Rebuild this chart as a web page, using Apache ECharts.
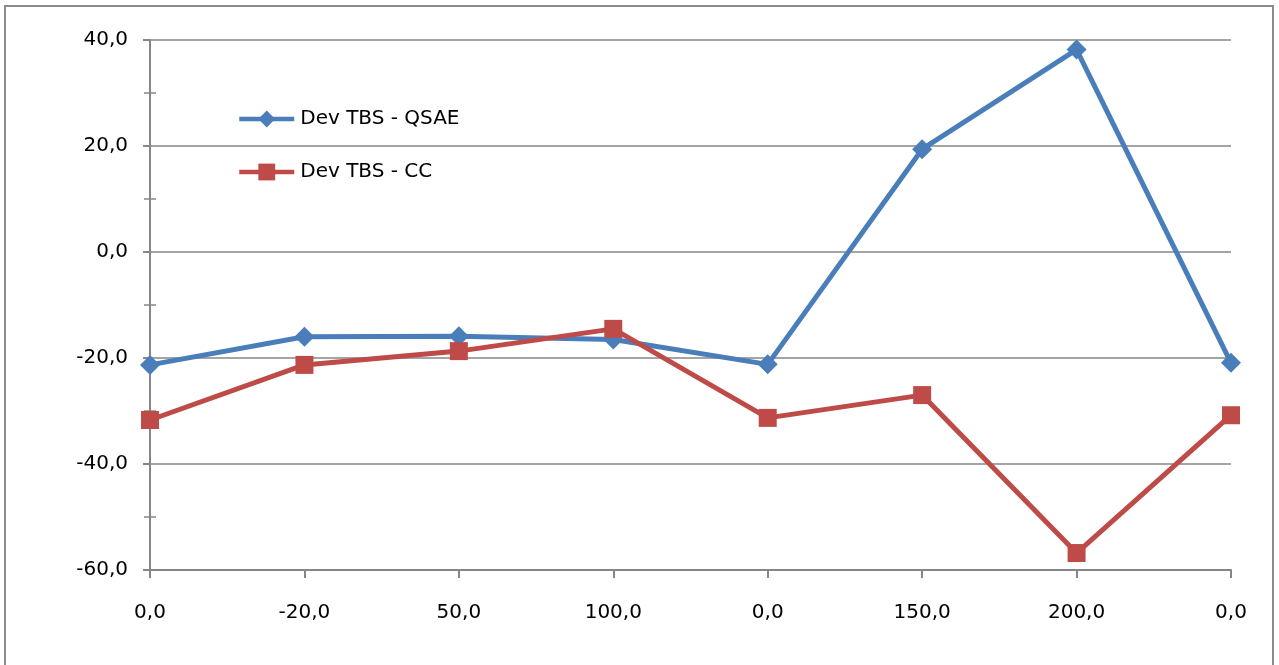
<!DOCTYPE html>
<html>
<head>
<meta charset="utf-8">
<script src="https://cdn.jsdelivr.net/npm/echarts@6/dist/echarts.min.js"></script>
<style>
  html, body { margin: 0; padding: 0; background: #fff; }
  #chart { width: 1279px; height: 665px; }
</style>
</head>
<body>
<div id="chart"></div>
<script>
// Category labels along the x axis
const categories = ['0,0', '-20,0', '50,0', '100,0', '0,0', '150,0', '200,0', '0,0'];
// Deviation series
const devQSAE = [-21.3, -16.0, -15.9, -16.5, -21.2, 19.4, 38.2, -20.9];
const devCC = [-31.7, -21.3, -18.7, -14.5, -31.3, -27.0, -56.8, -30.8];
const seriesNames = ['Dev TBS - QSAE', 'Dev TBS - CC'];

const FONT = '"DejaVu Sans", "Liberation Sans", Arial, sans-serif';
const AXIS_GREY = '#868686';
const BLUE = '#4a7ebb';
const RED = '#be4b48';
const Y_MIN = -60, Y_MAX = 40, Y_STEP = 20;

const chart = echarts.init(document.getElementById('chart'), null, { renderer: 'canvas' });

chart.setOption({
  animation: false,
  backgroundColor: '#ffffff',
  grid: { left: 150, top: 40, width: 1081, height: 530, containLabel: false },
  graphic: [{
    type: 'rect',
    shape: { x: 5, y: 6, width: 1268, height: 680 },
    style: { fill: 'none', stroke: '#8c8c8c', lineWidth: 2 },
    silent: true
  }],
  legend: {
    orient: 'vertical',
    left: 232,
    top: 104,
    itemWidth: 55,
    itemHeight: 21,
    itemGap: 33,
    lineStyle: { width: 4.5 },
    textStyle: { fontFamily: FONT, fontSize: 20, color: '#000', padding: [0, 0, 0, 1] },
    data: seriesNames
  },
  xAxis: {
    type: 'category',
    data: categories,
    boundaryGap: false,
    axisLine: { onZero: false, lineStyle: { color: AXIS_GREY, width: 2 } },
    axisTick: { show: true, length: 8, lineStyle: { color: AXIS_GREY, width: 2 } },
    axisLabel: { fontFamily: FONT, fontSize: 20, color: '#000', margin: 33 },
    splitLine: { show: false }
  },
  yAxis: [
    {
      type: 'value',
      min: Y_MIN,
      max: Y_MAX,
      interval: Y_STEP,
      axisLine: { show: true, lineStyle: { color: AXIS_GREY, width: 2 } },
      axisTick: { show: true, length: 7, lineStyle: { color: AXIS_GREY, width: 2 } },
      minorTick: { show: true, splitNumber: 2, length: 6, lineStyle: { color: AXIS_GREY, width: 1.5 } },
      axisLabel: {
        fontFamily: FONT, fontSize: 20, color: '#000', margin: 22,
        padding: [4, 0, 0, 0],
        formatter: v => v.toFixed(1).replace('.', ',')
      },
      splitLine: { show: true, lineStyle: { color: AXIS_GREY, width: 1.5 } }
    },
    {
      // inner half of the minor ticks, so they straddle the axis line
      type: 'value',
      position: 'left',
      min: Y_MIN,
      max: Y_MAX,
      interval: Y_STEP,
      axisLine: { show: false },
      axisTick: { show: false, inside: true },
      minorTick: { show: true, splitNumber: 2, length: 6, lineStyle: { color: AXIS_GREY, width: 1.5 } },
      axisLabel: { show: false },
      splitLine: { show: false }
    }
  ],
  series: [
    {
      name: seriesNames[0],
      type: 'line',
      data: devQSAE,
      symbol: 'diamond',
      symbolSize: 20,
      lineStyle: { color: BLUE, width: 5 },
      itemStyle: { color: BLUE },
      z: 3
    },
    {
      name: seriesNames[1],
      type: 'line',
      data: devCC,
      symbol: 'rect',
      symbolSize: 18,
      lineStyle: { color: RED, width: 5 },
      itemStyle: { color: RED },
      z: 4
    }
  ]
});
</script>
</body>
</html>
